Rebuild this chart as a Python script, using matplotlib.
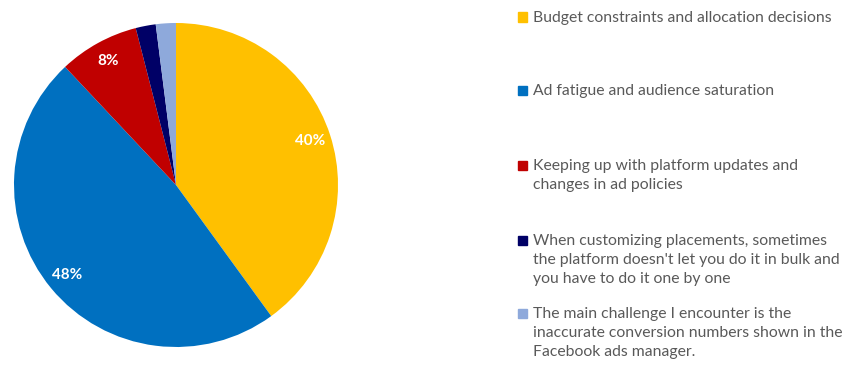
import matplotlib.pyplot as plt
from matplotlib.patches import Rectangle

# Share of respondents per challenge
challenges = [
    "Budget constraints and allocation decisions",
    "Ad fatigue and audience saturation",
    "Keeping up with platform updates and\nchanges in ad policies",
    "When customizing placements, sometimes\nthe platform doesn't let you do it in bulk and\nyou have to do it one by one",
    "The main challenge I encounter is the\ninaccurate conversion numbers shown in the\nFacebook ads manager.",
]
shares = [40, 48, 8, 2, 2]
colors = ["#FFC000", "#0070C0", "#C00000", "#000066", "#8EA9DB"]

W, H = 849, 367
fig = plt.figure(figsize=(W / 100, H / 100), dpi=100)
plt.rcParams['font.family'] = ['Lato', 'DejaVu Sans']

# pie area
ax = fig.add_axes([14 / W, 20 / H, 324 / W, 324 / H])
wedges, texts, autotexts = ax.pie(
    shares, colors=colors, startangle=90, counterclock=False,
    autopct=lambda p: f"{p:.0f}%" if p >= 5 else "",
    pctdistance=0.87, radius=1.0,
    wedgeprops=dict(linewidth=0),
    textprops=dict(color="white", fontsize=11, fontweight="bold"))
ax.set_xlim(-1, 1)
ax.set_ylim(-1, 1)
ax.set_aspect("equal")
ax.axis("off")

# legend on the right, one entry per challenge
entry_y = [17, 90, 165, 240, 313]
for label, col, y in zip(challenges, colors, entry_y):
    fig.patches.append(Rectangle((518 / W, 1 - (y + 4.5) / H), 9 / W, 9 / H,
                                 transform=fig.transFigure, color=col))
    fig.text(533 / W, 1 - (y - 6) / H, label, fontsize=11.3, color="#595959",
             va="top", ha="left", linespacing=1.45)

fig.savefig("out.png", dpi=100, facecolor="white")
